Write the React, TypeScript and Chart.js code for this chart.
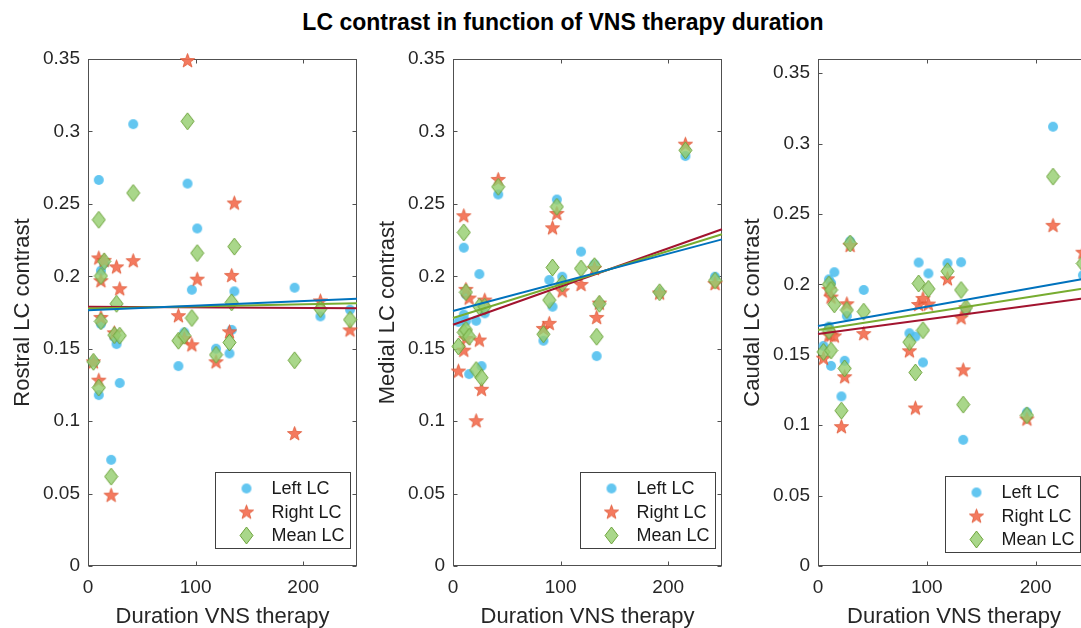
import React, { useEffect, useRef } from "react";
import { Chart, registerables } from "chart.js";

Chart.register(...registerables);

// ---------- data ----------
const durations = [5, 10, 10, 12, 12, 15, 21.5, 24.5, 26.5, 29.5, 42, 84, 89.5, 92.5, 96.5, 101.5, 119, 131.5, 133.5, 136, 192, 216, 243.5];

const rostralLeft = [0.141, 0.2665, 0.118, 0.2039, 0.167, 0.209, 0.0733, 0.158, 0.1532, 0.1263, 0.305, 0.138, 0.1612, 0.264, 0.1907, 0.233, 0.15, 0.1467, 0.163, 0.1896, 0.1921, 0.1723, 0.1769];
const rostralRight = [0.141, 0.2127, 0.1283, 0.197, 0.1716, 0.211, 0.0489, 0.161, 0.2065, 0.1914, 0.2108, 0.1728, 0.157, 0.349, 0.1527, 0.198, 0.141, 0.1617, 0.2006, 0.2506, 0.0915, 0.183, 0.163];
const rostralMean = [0.141, 0.239, 0.1232, 0.2002, 0.1689, 0.2103, 0.0617, 0.1594, 0.181, 0.159, 0.2575, 0.1555, 0.159, 0.307, 0.1712, 0.216, 0.1458, 0.1543, 0.182, 0.2205, 0.142, 0.1774, 0.17];

const medialLeft = [0.1685, 0.2197, 0.1736, 0.1875, 0.169, 0.1325, 0.1693, 0.2015, 0.138, 0.1744, 0.2565, 0.1555, 0.1974, 0.179, 0.253, 0.1997, 0.217, 0.2082, 0.1449, 0.1808, 0.189, 0.283, 0.1997];
const medialRight = [0.1346, 0.2418, 0.149, 0.191, 0.1571, 0.185, 0.1003, 0.156, 0.122, 0.1836, 0.2669, 0.164, 0.1675, 0.2335, 0.2434, 0.19, 0.1944, 0.2054, 0.1716, 0.1815, 0.1885, 0.2912, 0.195];
const medialMean = [0.1516, 0.2303, 0.1613, 0.189, 0.163, 0.1583, 0.1353, 0.179, 0.13, 0.179, 0.2618, 0.16, 0.1836, 0.2061, 0.248, 0.195, 0.2054, 0.207, 0.1583, 0.181, 0.189, 0.287, 0.197];

const caudalLeft = [0.1563, 0.2035, 0.17, 0.201, 0.1421, 0.2086, 0.1204, 0.1457, 0.1775, 0.2306, 0.196, 0.1653, 0.1629, 0.2155, 0.1445, 0.2077, 0.215, 0.2157, 0.0896, 0.182, 0.1091, 0.3119, 0.2065];
const caudalRight = [0.1476, 0.1965, 0.164, 0.191, 0.164, 0.1634, 0.099, 0.1344, 0.1862, 0.2277, 0.165, 0.1528, 0.1122, 0.1857, 0.19, 0.186, 0.204, 0.1763, 0.1393, 0.1834, 0.1044, 0.2419, 0.2228];
const caudalMean = [0.152, 0.2, 0.167, 0.196, 0.153, 0.1858, 0.1103, 0.1403, 0.1818, 0.229, 0.1806, 0.159, 0.1374, 0.2006, 0.1674, 0.1968, 0.2093, 0.196, 0.1146, 0.1834, 0.107, 0.2765, 0.2148];

// regression line end values at x = fitX
const fitX = [0, 250];
const rostralFitLeft = [0.1765, 0.1845];
const rostralFitRight = [0.179, 0.178];
const rostralFitMean = [0.1778, 0.1813];
const medialFitLeft = [0.176, 0.2255];
const medialFitRight = [0.1665, 0.2325];
const medialFitMean = [0.1712, 0.229];
const caudalFitLeft = [0.1704, 0.2046];
const caudalFitRight = [0.1648, 0.1907];
const caudalFitMean = [0.1676, 0.1977];

const xTicks = [0, 100, 200];
const yTicks = [0, 0.05, 0.1, 0.15, 0.2, 0.25, 0.3, 0.35];
const seriesNames = ["Left LC", "Right LC", "Mean LC"];
const chartTitle = "LC contrast in function of VNS therapy duration";
const xTitle = "Duration VNS therapy";

const FONT = "'Liberation Sans', Arial, Helvetica, sans-serif";
const TEXT = "#262626";

// ---------- marker images ----------
function makeCircle() {
  const c = document.createElement("canvas");
  c.width = 12; c.height = 12;
  const g = c.getContext("2d")!;
  g.beginPath();
  g.arc(6, 6, 5, 0, Math.PI * 2);
  g.fillStyle = "rgba(77,190,238,0.88)";
  g.fill();
  return c;
}
function makeStar() {
  const c = document.createElement("canvas");
  c.width = 17; c.height = 17;
  const g = c.getContext("2d")!;
  g.beginPath();
  for (let i = 0; i < 10; i++) {
    const r = i % 2 === 0 ? 7.5 : 3.1;
    const a = -Math.PI / 2 + (i * Math.PI) / 5;
    const x = 8.5 + r * Math.cos(a);
    const y = 9 + r * Math.sin(a);
    if (i === 0) g.moveTo(x, y); else g.lineTo(x, y);
  }
  g.closePath();
  g.fillStyle = "rgba(243,108,78,0.9)";
  g.fill();
  g.strokeStyle = "rgba(222,85,50,0.95)";
  g.lineWidth = 0.8;
  g.stroke();
  return c;
}
function makeDiamond() {
  const c = document.createElement("canvas");
  c.width = 15; c.height = 19;
  const g = c.getContext("2d")!;
  g.beginPath();
  g.moveTo(7.5, 1);
  g.lineTo(14, 9.5);
  g.lineTo(7.5, 18);
  g.lineTo(1, 9.5);
  g.closePath();
  g.fillStyle = "rgba(150,206,112,0.82)";
  g.fill();
  g.strokeStyle = "rgba(105,160,55,0.95)";
  g.lineWidth = 1;
  g.stroke();
  return c;
}

function fmt(v: number) {
  return String(+Number(v).toFixed(2));
}

type PanelProps = {
  left: number;
  width: number;
  yTitle: string;
  yMax: number;
  L: number[];
  R: number[];
  M: number[];
  fitL: number[];
  fitR: number[];
  fitM: number[];
  legendTop: number;
};

function Panel(p: PanelProps) {
  const ref = useRef<HTMLCanvasElement | null>(null);
  useEffect(() => {
    const canvas = ref.current!;
    const circle = makeCircle();
    const star = makeStar();
    const diamond = makeDiamond();
    const pts = (arr: number[]) => durations.map((d, i) => ({ x: d, y: arr[i] }));
    const line = (arr: number[]) => fitX.map((x, i) => ({ x, y: arr[i] }));

    const boxPlugin = {
      id: "matlabBox",
      beforeDatasetsDraw(chart: any) {
        const { ctx, chartArea: a, scales } = chart;
        ctx.save();
        ctx.strokeStyle = "#505050";
        ctx.lineWidth = 1;
        const Lx = Math.round(a.left) + 0.5, Rx = Math.round(a.right) - 0.5;
        const Ty = Math.round(a.top) + 0.5, By = Math.round(a.bottom) - 0.5;
        ctx.strokeRect(Lx, Ty, Rx - Lx, By - Ty);
        ctx.beginPath();
        scales.x.ticks.forEach((t: any) => {
          const px = Math.round(scales.x.getPixelForValue(t.value)) + 0.5;
          ctx.moveTo(px, By); ctx.lineTo(px, By - 4);
          ctx.moveTo(px, Ty); ctx.lineTo(px, Ty + 4);
        });
        scales.y.ticks.forEach((t: any) => {
          const py = Math.round(scales.y.getPixelForValue(t.value)) + 0.5;
          ctx.moveTo(Lx, py); ctx.lineTo(Lx + 4, py);
          ctx.moveTo(Rx, py); ctx.lineTo(Rx - 4, py);
        });
        ctx.stroke();
        ctx.restore();
      },
    };
    const legendPlugin = {
      id: "boxLegend",
      afterDraw(chart: any) {
        const { ctx, chartArea: a } = chart;
        const bx = Math.round(a.left) + 127 + 0.5;
        const by = p.legendTop + 0.5;
        const bw = 135, bh = 76;
        ctx.save();
        ctx.fillStyle = "#ffffff";
        ctx.fillRect(bx, by, bw, bh);
        ctx.strokeStyle = "#404040";
        ctx.lineWidth = 1;
        ctx.strokeRect(bx, by, bw, bh);
        const imgs = [circle, star, diamond];
        ctx.font = `18px ${FONT}`;
        ctx.fillStyle = "#1a1a1a";
        ctx.textBaseline = "middle";
        ctx.textAlign = "left";
        imgs.forEach((im, i) => {
          const cy = by + 16 + i * 23.5;
          ctx.drawImage(im, bx + 31 - im.width / 2, cy - im.height / 2);
          ctx.fillText(seriesNames[i], bx + 56, cy + 1);
        });
        ctx.restore();
      },
    };

    const chart = new Chart(canvas, {
      type: "scatter",
      data: {
        datasets: [
          { label: "fitL", data: line(p.fitL), showLine: true, borderColor: "#0072BD", borderWidth: 2, pointRadius: 0, order: 0, clip: false } as any,
          { label: "fitM", data: line(p.fitM), showLine: true, borderColor: "#77AC30", borderWidth: 2, pointRadius: 0, order: 0, clip: false } as any,
          { label: "fitR", data: line(p.fitR), showLine: true, borderColor: "#A2142F", borderWidth: 2, pointRadius: 0, order: 0, clip: false } as any,
          { label: seriesNames[2], data: pts(p.M), pointStyle: diamond, pointRadius: 7, order: 1, clip: false } as any,
          { label: seriesNames[1], data: pts(p.R), pointStyle: star, pointRadius: 7, order: 2, clip: false } as any,
          { label: seriesNames[0], data: pts(p.L), pointStyle: circle, pointRadius: 5, order: 3, clip: false } as any,
        ],
      },
      options: {
        animation: false,
        responsive: false,
        devicePixelRatio: 1,
        layout: { padding: { top: 59, right: 18, left: 0, bottom: 0 } },
        plugins: {
          legend: { display: false },
          tooltip: { enabled: false },
          title: { display: false },
        },
        scales: {
          x: {
            type: "linear",
            min: 0,
            max: 250,
            afterBuildTicks: (s: any) => { s.ticks = xTicks.map((v) => ({ value: v })); },
            afterFit: (s: any) => { s.height = 62; },
            grid: { display: false, drawTicks: false },
            border: { display: false },
            ticks: {
              autoSkip: false,
              maxRotation: 0,
              padding: 12,
              color: TEXT,
              font: { family: FONT, size: 19, lineHeight: 1 },
              callback: (v: any) => String(v),
            },
            title: {
              display: true,
              text: xTitle,
              color: TEXT,
              font: { family: FONT, size: 22, lineHeight: 1 },
              padding: { top: 0, bottom: 0 },
            },
          },
          y: {
            type: "linear",
            min: 0,
            max: p.yMax,
            afterBuildTicks: (s: any) => { s.ticks = yTicks.map((v) => ({ value: v })); },
            afterFit: (s: any) => { s.width = 88; },
            grid: { display: false, drawTicks: false },
            border: { display: false },
            ticks: {
              autoSkip: false,
              padding: 8,
              color: TEXT,
              font: { family: FONT, size: 19, lineHeight: 1 },
              callback: (v: any) => fmt(v),
            },
            title: {
              display: true,
              text: p.yTitle,
              color: TEXT,
              font: { family: FONT, size: 22, lineHeight: 1 },
              padding: { top: 12, bottom: 0 },
            },
          },
        },
      } as any,
      plugins: [boxPlugin, legendPlugin],
    });
    return () => chart.destroy();
  }, []);
  return (
    <canvas
      ref={ref}
      width={p.width}
      height={628}
      style={{ position: "absolute", left: p.left, top: 0, width: p.width, height: 628 }}
    />
  );
}

export default function App() {
  return (
    <div
      style={{
        position: "fixed",
        left: 0,
        top: 0,
        width: 1081,
        height: 628,
        overflow: "hidden",
        background: "#ffffff",
      }}
    >
      <div
        style={{
          position: "absolute",
          left: 263,
          top: 11,
          width: 600,
          textAlign: "center",
          fontFamily: FONT,
          fontWeight: "bold",
          fontSize: 23,
          lineHeight: "23px",
          color: "#000",
          whiteSpace: "nowrap",
        }}
      >
        {chartTitle}
      </div>
      <Panel left={0} width={375} yTitle="Rostral LC contrast" yMax={0.35}
        L={rostralLeft} R={rostralRight} M={rostralMean}
        fitL={rostralFitLeft} fitR={rostralFitRight} fitM={rostralFitMean} legendTop={472} />
      <Panel left={365} width={375} yTitle="Medial LC contrast" yMax={0.35}
        L={medialLeft} R={medialRight} M={medialMean}
        fitL={medialFitLeft} fitR={medialFitRight} fitM={medialFitMean} legendTop={472} />
      <Panel left={730} width={378} yTitle="Caudal LC contrast" yMax={0.36}
        L={caudalLeft} R={caudalRight} M={caudalMean}
        fitL={caudalFitLeft} fitR={caudalFitRight} fitM={caudalFitMean} legendTop={476} />
    </div>
  );
}
